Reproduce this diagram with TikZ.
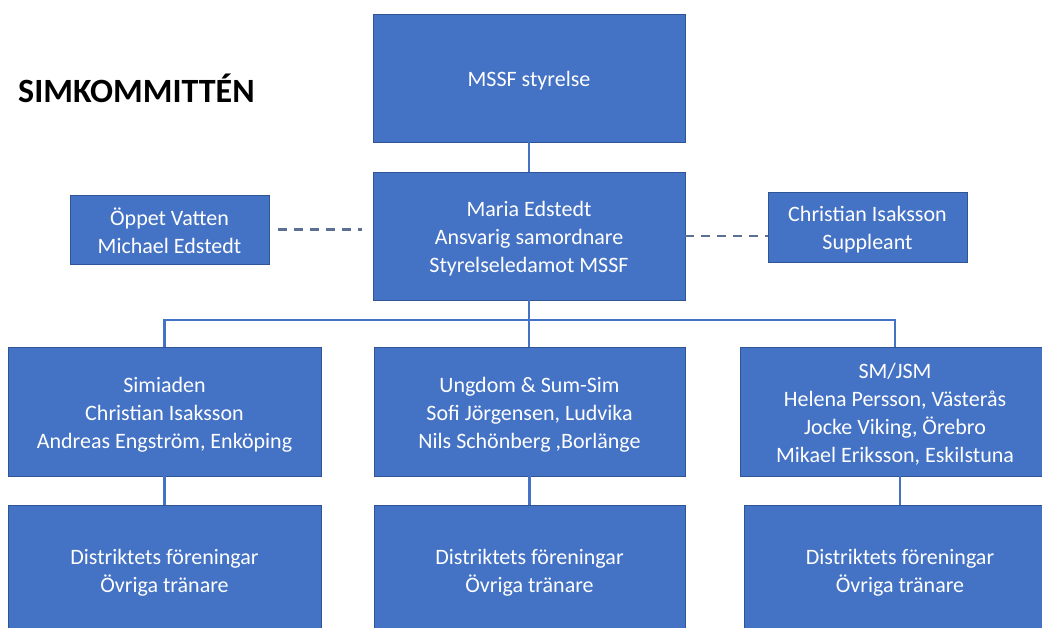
\documentclass[tikz,border=0pt]{standalone}
\usepackage{fontspec}
\setmainfont{Carlito}
\definecolor{boxblue}{HTML}{4472C4}
\definecolor{boxedge}{HTML}{2F5597}
\definecolor{linkblue}{HTML}{4472C4}
\definecolor{dashgray}{HTML}{5B6F90}
\tikzset{
  orgbox/.style={draw=boxedge, line width=0.8pt, fill=boxblue, inner sep=0pt},
  boxtext/.style={text=white, align=center, inner sep=0pt, yshift=-3pt,
    font=\fontsize{22}{28}\selectfont},
  link/.style={draw=linkblue, line width=2.2pt},
  dashlink/.style={draw=dashgray, line width=2.4pt, dash pattern=on 9pt off 7pt}
}
\begin{document}
\begin{tikzpicture}[x=1pt,y=-1pt]
\useasboundingbox (0,0) rectangle (1042,628);
\fill[white] (0,0) rectangle (1042,628);
\clip (0,0) rectangle (1042,628);
\node[anchor=base west, font=\fontsize{34}{40}\selectfont\bfseries, text=black, inner sep=0pt] (title) at (18,103) {SIMKOMMITTÉN};
\node[orgbox, minimum width=312pt, minimum height=128pt] (mssf) at (529,78) {};
\node[orgbox, minimum width=312pt, minimum height=128pt] (maria) at (529,236) {};
\node[orgbox, minimum width=199pt, minimum height=69pt] (oppet) at (169.5,229.5) {};
\node[orgbox, minimum width=199pt, minimum height=70pt] (chris) at (867.5,227) {};
\node[orgbox, minimum width=313pt, minimum height=129pt] (sim) at (164.5,411.5) {};
\node[orgbox, minimum width=311pt, minimum height=129pt] (ung) at (529.5,411.5) {};
\node[orgbox, minimum width=310pt, minimum height=129pt] (sm) at (895,411.5) {};
\node[orgbox, minimum width=313pt, minimum height=130pt] (d1) at (164.5,570) {};
\node[orgbox, minimum width=311pt, minimum height=130pt] (d2) at (529.5,570) {};
\node[orgbox, minimum width=312pt, minimum height=130pt] (d3) at (900,570) {};
\node[boxtext] (tmssf) at (mssf.center) {MSSF styrelse};
\node[boxtext] (tmaria) at (maria.center) {Maria Edstedt\\Ansvarig samordnare\\Styrelseledamot MSSF};
\node[boxtext, yshift=2pt] (toppet) at (oppet.center) {Öppet Vatten\\Michael Edstedt};
\node[boxtext] (tchris) at (chris.center) {Christian Isaksson\\Suppleant};
\node[boxtext] (tsim) at (sim.center) {Simiaden\\Christian Isaksson\\Andreas Engström, Enköping};
\node[boxtext] (tung) at (ung.center) {Ungdom \& Sum-Sim\\Sofi Jörgensen, Ludvika\\Nils Schönberg ,Borlänge};
\node[boxtext] (tsm) at (sm.center) {SM/JSM\\Helena Persson, Västerås\\Jocke Viking, Örebro\\Mikael Eriksson, Eskilstuna};
\node[boxtext] (td1) at (d1.center) {Distriktets föreningar\\Övriga tränare};
\node[boxtext] (td2) at (d2.center) {Distriktets föreningar\\Övriga tränare};
\node[boxtext] (td3) at (d3.center) {Distriktets föreningar\\Övriga tränare};
\coordinate (bus) at (529,320);
\draw[link] (mssf.south) -- (maria.north);
\draw[link] (maria.south) -- (maria.south |- ung.north);
\draw[link] (sim.north) |- (bus) -| (sm.north);
\draw[link] (sim.south) -- (d1.north);
\draw[link] (ung.south) -- (ung.south |- d2.north);
\draw[link] (d3.north) -- (d3.north |- sm.south);
\draw[dashlink, shorten <=9pt, shorten >=11pt] (oppet.east) -- (oppet.east -| maria.west);
\draw[dashlink] (maria.east) -- (maria.east -| chris.west);
\end{tikzpicture}
\end{document}
